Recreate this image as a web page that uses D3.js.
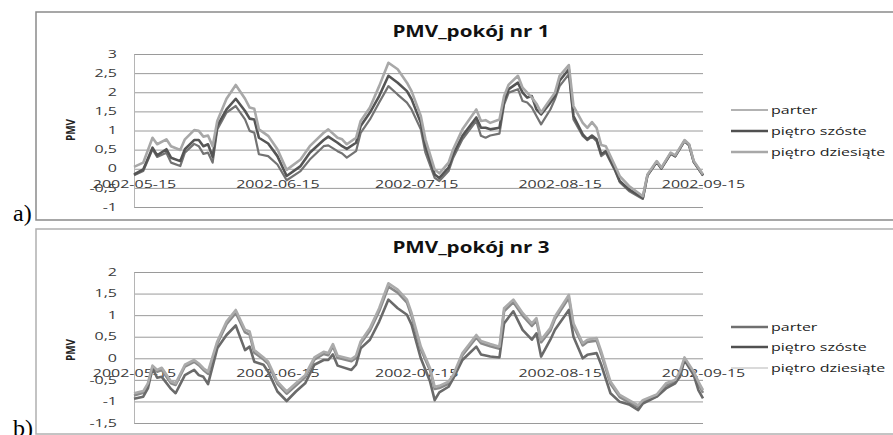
<!DOCTYPE html>
<html><head><meta charset="utf-8">
<script src="https://cdn.jsdelivr.net/npm/d3@7"></script>
<style>body{margin:0;background:#fff} svg{display:block}</style>
</head><body>
<svg id="c" width="893" height="435"></svg>
<script>
// ---------- DATA ----------
const startDate = "2002-05-15";
const seriesNames = ["parter", "piętro szóste", "piętro dziesiąte"];
const dateTicks = ["2002-05-15", "2002-06-15", "2002-07-15", "2002-08-15", "2002-09-15"];
const titleA = "PMV_pokój nr 1";
const titleB = "PMV_pokój nr 3";
const yTicksA = [-1, -0.5, 0, 0.5, 1, 1.5, 2, 2.5, 3];
const yTicksB = [-1.5, -1, -0.5, 0, 0.5, 1, 1.5, 2];

// day offsets from startDate (panel a)
const daysA = [0,2,4,5,7,8,10,11,13,14,15,16,17,18,20,22,24,25,26,27,29,31,33,36,38,41,
  42,44,45,46,48,49,51,53,55,57,59,60,62,63,65,66,68,69,71,74,75,76,77,79,80,
  81,83,84,85,86,87,88,90,91,92,94,95,97,98,99,100,101,102,104,105,107,110,111,113,114,116,117,119,120,121,123];
const parterA = [-0.17,-0.06,0.51,0.31,0.42,0.16,0.07,0.42,0.65,0.59,0.39,0.42,0.16,1.03,1.47,1.64,1.29,0.99,0.94,0.38,0.33,0.11,-0.30,-0.06,0.24,0.59,
  0.61,0.46,0.40,0.29,0.46,0.94,1.29,1.73,2.16,1.94,1.73,1.55,1.03,0.42,-0.24,-0.32,-0.06,0.29,0.77,1.25,0.86,0.81,0.87,0.92,1.68,
  1.99,2.08,1.77,1.73,1.60,1.38,1.16,1.55,1.82,2.16,2.47,1.29,0.86,0.75,0.84,0.72,0.33,0.42,-0.06,-0.35,-0.58,-0.79,-0.18,0.17,0.00,0.39,0.32,0.72,0.61,0.17,-0.18];
const szosteA = [-0.15,-0.02,0.55,0.35,0.51,0.29,0.20,0.51,0.75,0.75,0.59,0.64,0.31,1.12,1.55,1.83,1.51,1.31,1.29,0.81,0.66,0.33,-0.19,0.07,0.42,0.75,
  0.84,0.68,0.59,0.52,0.68,1.12,1.47,1.90,2.43,2.25,2.03,1.82,1.20,0.59,-0.15,-0.24,0.03,0.38,0.86,1.34,1.07,1.07,1.03,1.07,1.77,
  2.08,2.25,1.99,1.86,1.90,1.55,1.42,1.73,1.90,2.30,2.60,1.38,0.90,0.77,0.87,0.77,0.38,0.46,-0.02,-0.32,-0.54,-0.76,-0.17,0.18,0.01,0.40,0.33,0.73,0.62,0.18,-0.17];
const dziesiateA = [0.05,0.16,0.81,0.64,0.77,0.59,0.49,0.77,1.01,0.99,0.84,0.87,0.59,1.25,1.83,2.19,1.83,1.60,1.57,1.03,0.86,0.51,-0.03,0.24,0.59,0.94,
  1.03,0.81,0.77,0.64,0.81,1.25,1.60,2.16,2.77,2.60,2.25,2.03,1.38,0.77,-0.02,-0.12,0.16,0.51,1.03,1.55,1.25,1.27,1.20,1.29,1.90,
  2.20,2.43,2.12,1.99,1.86,1.70,1.47,1.82,1.99,2.43,2.71,1.64,1.20,1.07,1.22,1.07,0.62,0.59,0.07,-0.19,-0.45,-0.72,-0.15,0.20,0.03,0.42,0.35,0.75,0.64,0.20,-0.15];

// day offsets from startDate (panel b)
const daysB = [0,2,3,4,5,6,8,9,11,13,14,15,16,18,20,22,24,25,26,28,29,31,33,35,37,39,41,
  42,43,44,47,48,49,51,53,55,57,59,60,62,64,65,66,68,69,71,74,75,77,79,80,82,
  84,86,87,88,90,91,94,95,97,98,100,101,103,105,107,109,110,113,115,117,118,119,121,122,123];
const parterB = [-0.86,-0.80,-0.62,-0.20,-0.31,-0.27,-0.58,-0.62,-0.19,-0.08,-0.16,-0.27,-0.36,0.34,0.79,1.05,0.60,0.55,0.13,-0.03,-0.13,-0.59,-0.82,-0.63,-0.44,-0.03,0.10,
  0.07,0.28,0.01,-0.07,0.01,0.34,0.64,1.09,1.66,1.52,1.29,0.98,0.21,-0.28,-0.71,-0.69,-0.59,-0.44,0.07,0.48,0.35,0.28,0.22,1.09,1.30,
  0.99,0.75,0.87,0.37,0.64,0.91,1.40,0.75,0.30,0.38,0.41,0.10,-0.59,-0.90,-1.02,-1.13,-1.01,-0.88,-0.63,-0.55,-0.36,-0.03,-0.36,-0.60,-0.80];
const szosteB = [-0.94,-0.89,-0.70,-0.23,-0.45,-0.43,-0.71,-0.81,-0.39,-0.27,-0.39,-0.43,-0.60,0.23,0.54,0.76,0.19,0.27,-0.08,-0.15,-0.31,-0.77,-0.99,-0.77,-0.58,-0.15,-0.04,
  -0.04,0.09,-0.17,-0.27,-0.15,0.23,0.43,0.85,1.36,1.16,1.01,0.78,0.00,-0.54,-0.97,-0.79,-0.66,-0.47,-0.04,0.27,0.09,0.04,0.02,0.81,1.09,
  0.66,0.43,0.58,0.04,0.43,0.66,1.12,0.50,0.00,0.08,0.12,-0.15,-0.81,-1.01,-1.07,-1.20,-1.05,-0.89,-0.70,-0.58,-0.43,-0.04,-0.39,-0.74,-0.93];
const dziesiateB = [-0.81,-0.76,-0.58,-0.17,-0.27,-0.22,-0.54,-0.58,-0.15,-0.04,-0.12,-0.23,-0.31,0.39,0.85,1.12,0.66,0.62,0.19,0.02,-0.08,-0.54,-0.77,-0.58,-0.39,0.02,0.15,
  0.12,0.33,0.06,-0.02,0.06,0.39,0.70,1.16,1.74,1.59,1.36,1.05,0.27,-0.23,-0.66,-0.64,-0.54,-0.39,0.12,0.54,0.40,0.33,0.27,1.16,1.36,
  1.05,0.81,0.93,0.43,0.70,0.97,1.47,0.81,0.35,0.43,0.47,0.16,-0.54,-0.85,-0.97,-1.09,-0.97,-0.84,-0.58,-0.50,-0.31,0.02,-0.31,-0.54,-0.74];

// ---------- DRAW ----------
const svg = d3.select("#c");
const parse = d3.utcParse("%Y-%m-%d");
const fmtDate = d3.utcFormat("%Y-%m-%d");
const t0 = parse(startDate);
const FONT = "'Open Sans', 'Liberation Sans', sans-serif";
const SX = 1.6;   // horizontal stretch of the reference's text

const x = d3.scaleUtc().domain([parse(dateTicks[0]), parse(dateTicks[dateTicks.length - 1])]).range([134, 703]);

function panel(cfg) {
  const g = svg.append("g");
  // outer chart frame
  g.append("rect").attr("x", 36).attr("y", cfg.frameTop).attr("width", 900).attr("height", cfg.frameH)
    .attr("fill", "#fff").attr("stroke", cfg.frameColor).attr("stroke-width", 1.5);

  const y = d3.scaleLinear().domain(cfg.yDomain).range([cfg.plotBottom, cfg.plotTop]);

  // gridlines
  g.append("g").attr("transform", "translate(134,0)")
    .call(d3.axisLeft(y).tickValues(cfg.yTicks).tickSize(-(703 - 134)).tickFormat(""))
    .call(s => s.select(".domain").remove())
    .call(s => s.selectAll("line").attr("stroke", "#9a9a9a").attr("stroke-width", 1));

  // left axis line + labels
  const ya = g.append("g").attr("transform", "translate(134,0)")
    .call(d3.axisLeft(y).tickValues(cfg.yTicks).tickSize(0).tickSizeOuter(0).tickPadding(17)
      .tickFormat(d => String(d).replace(".", ",")));
  ya.select(".domain").attr("stroke", "#b5b5b5").attr("stroke-width", 1);
  ya.selectAll("text").attr("font-family", FONT).attr("font-size", 10).attr("fill", "#3a3a3a");
  ya.selectAll("text").each(function () {
    d3.select(this).attr("x", 0).attr("transform", `translate(-17,0) scale(${SX},1)`);
  });

  // date axis at zero
  const xa = g.append("g").attr("transform", `translate(0,${y(0)})`)
    .call(d3.axisBottom(x).tickValues(dateTicks.map(parse)).tickSize(0).tickPadding(0).tickFormat(fmtDate));
  xa.select(".domain").remove();
  xa.selectAll("text").attr("font-family", FONT).attr("font-size", 10).attr("fill", "#3a3a3a")
    .attr("dy", null);
  xa.selectAll("text").each(function () {
    d3.select(this).attr("y", 0).attr("transform", `translate(0,19) scale(${SX},1)`);
  });

  // lines
  const line = d3.line().x(d => x(d3.utcDay.offset(t0, d[0]))).y(d => y(d[1]));
  cfg.series.forEach(s => {
    g.append("path").datum(cfg.days.map((d, i) => [d, s.values[i]]))
      .attr("d", line).attr("fill", "none").attr("stroke", s.color)
      .attr("stroke-width", s.width).attr("stroke-linejoin", "round");
  });

  // title
  g.append("text").attr("text-anchor", "middle").attr("font-family", FONT).attr("font-weight", "bold")
    .attr("font-size", 15.5).attr("fill", "#111").text(cfg.title)
    .attr("transform", `translate(471,${cfg.titleY}) scale(1.33,1)`);

  // y axis title
  g.append("text").attr("text-anchor", "middle").attr("font-family", FONT).attr("font-weight", "bold")
    .attr("font-size", 10).attr("fill", "#222").text("PMV")
    .attr("transform", `translate(75,${cfg.pmvY}) rotate(-90) scale(1,1.3)`);

  // legend
  cfg.series.forEach((s, i) => {
    const ly = cfg.legendY[i];
    g.append("line").attr("x1", 731).attr("x2", 768).attr("y1", ly).attr("y2", ly)
      .attr("stroke", s.lcolor).attr("stroke-width", s.lwidth);
    g.append("text").attr("font-family", FONT).attr("font-size", 10).attr("fill", "#222")
      .attr("dy", "0.35em").text(seriesNames[i])
      .attr("transform", `translate(771,${ly}) scale(${SX},1)`);
  });

  // panel letter
  svg.append("text").attr("x", 13).attr("y", cfg.letterY).attr("font-family", "'Liberation Serif', serif")
    .attr("font-size", 24).attr("fill", "#000").text(cfg.letter);
}

panel({
  frameTop: 12, frameH: 208, frameColor: "#8a8a8a",
  plotTop: 54, plotBottom: 207, yDomain: [-1, 3], yTicks: yTicksA,
  title: titleA, titleY: 37, pmvY: 130, legendY: [110, 131, 152],
  letter: "a)", letterY: 221,
  days: daysA,
  series: [
    { values: parterA, color: "#737373", width: 2.2, lcolor: "#666", lwidth: 1.2 },
    { values: szosteA, color: "#555555", width: 2.6, lcolor: "#505050", lwidth: 2.6 },
    { values: dziesiateA, color: "#a8a8a8", width: 2.6, lcolor: "#a8a8a8", lwidth: 2.6 }
  ]
});

panel({
  frameTop: 229, frameH: 205, frameColor: "#b0b0b0",
  plotTop: 272, plotBottom: 423, yDomain: [-1.5, 2], yTicks: yTicksB,
  title: titleB, titleY: 253, pmvY: 350, legendY: [327, 347, 368],
  letter: "b)", letterY: 436,
  days: daysB,
  series: [
    { values: parterB, color: "#8a8a8a", width: 2.6, lcolor: "#6f6f6f", lwidth: 2.6 },
    { values: szosteB, color: "#6a6a6a", width: 2.6, lcolor: "#505050", lwidth: 2.6 },
    { values: dziesiateB, color: "#ababab", width: 2.6, lcolor: "#b5b5b5", lwidth: 1.2 }
  ]
});
</script>
</body></html>
